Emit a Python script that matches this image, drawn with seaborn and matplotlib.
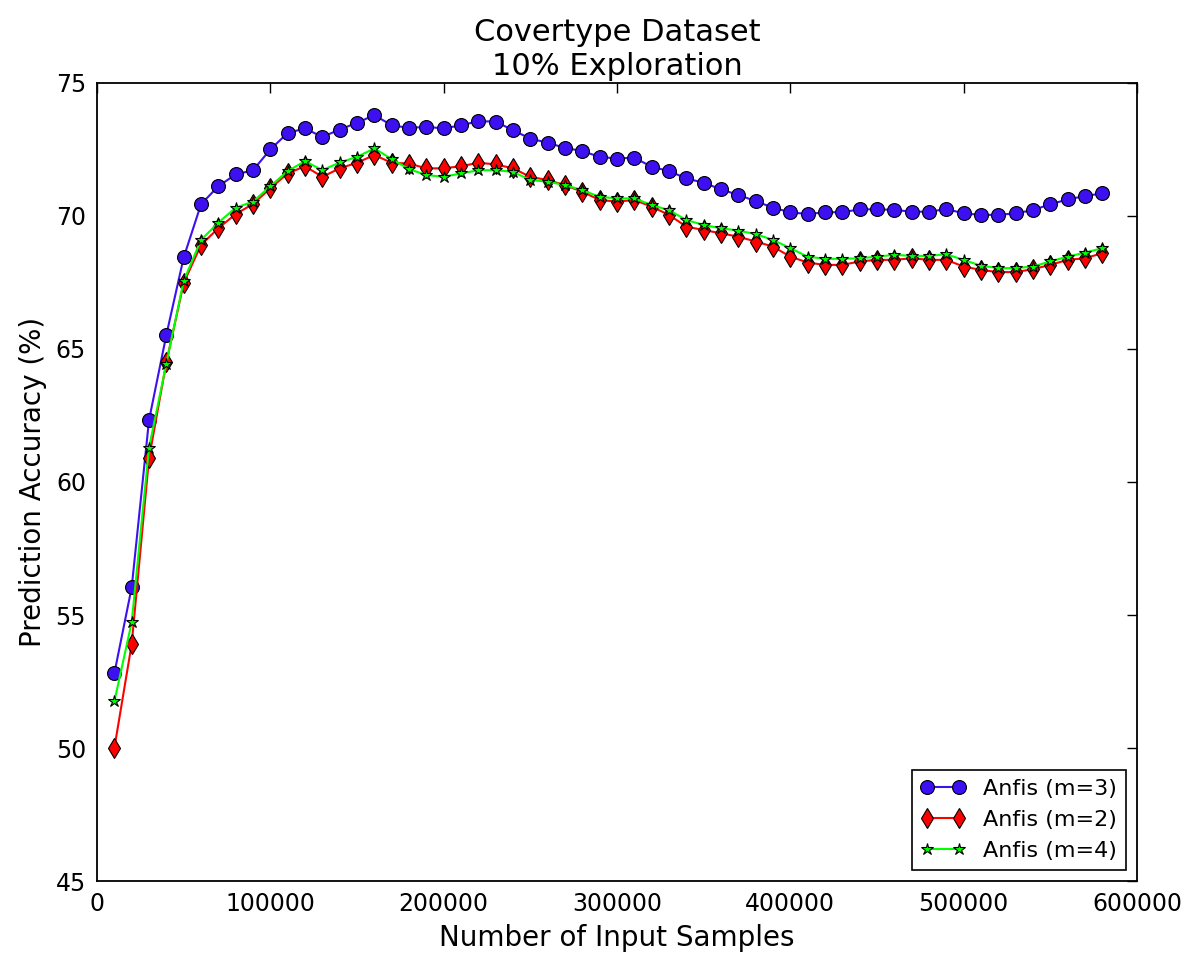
import matplotlib
matplotlib.use("Agg")
import matplotlib.pyplot as plt
import seaborn as sns
import numpy as np
import pandas as pd

samples = list(range(10000, 590000, 10000))

anfis_m3 = [52.81, 56.04, 62.33, 65.53, 68.44, 70.44, 71.12, 71.56, 71.72, 72.50,
            73.12, 73.29, 72.97, 73.25, 73.50, 73.79, 73.41, 73.31, 73.35, 73.29,
            73.41, 73.56, 73.55, 73.22, 72.91, 72.75, 72.56, 72.44, 72.22, 72.16,
            72.19, 71.85, 71.69, 71.41, 71.25, 71.00, 70.79, 70.56, 70.31, 70.14,
            70.07, 70.14, 70.14, 70.25, 70.25, 70.23, 70.16, 70.16, 70.26, 70.10,
            70.04, 70.04, 70.10, 70.22, 70.44, 70.62, 70.75, 70.85]

anfis_m2 = [50.00, 53.91, 60.89, 64.50, 67.48, 68.91, 69.54, 70.07, 70.45, 71.04,
            71.60, 71.87, 71.47, 71.79, 72.00, 72.29, 72.00, 71.97, 71.79, 71.79,
            71.87, 72.00, 71.94, 71.79, 71.47, 71.35, 71.16, 70.91, 70.60, 70.54,
            70.60, 70.35, 70.04, 69.60, 69.47, 69.35, 69.22, 69.04, 68.85, 68.47,
            68.25, 68.16, 68.16, 68.29, 68.35, 68.35, 68.41, 68.35, 68.35, 68.10,
            67.97, 67.89, 67.89, 68.00, 68.16, 68.35, 68.41, 68.60]

anfis_m4 = [51.75, 54.73, 61.29, 64.45, 67.56, 69.10, 69.75, 70.31, 70.54, 71.12,
            71.69, 72.06, 71.72, 72.01, 72.22, 72.54, 72.14, 71.76, 71.54, 71.47,
            71.60, 71.72, 71.72, 71.66, 71.35, 71.29, 71.16, 70.97, 70.72, 70.66,
            70.66, 70.41, 70.22, 69.85, 69.66, 69.54, 69.45, 69.32, 69.10, 68.79,
            68.47, 68.39, 68.39, 68.41, 68.47, 68.54, 68.50, 68.50, 68.56, 68.35,
            68.13, 68.04, 68.04, 68.10, 68.29, 68.47, 68.62, 68.79]

labels = ["Anfis (m=3)", "Anfis (m=2)", "Anfis (m=4)"]
x_ticks = [0, 100000, 200000, 300000, 400000, 500000, 600000]
y_ticks = [45, 50, 55, 60, 65, 70, 75]

sns.set_style("white")
plt.rcParams['font.family'] = ['DejaVu Sans']
plt.rcParams['text.color'] = 'black'
plt.rcParams['axes.labelcolor'] = 'black'

fig = plt.figure(figsize=(11.98, 9.59), dpi=100)
ax = fig.add_axes([0.081, 0.0813, 0.868, 0.8322])

sns.lineplot(x=samples, y=anfis_m3, ax=ax, color='#3c10f0', marker='o',
             markersize=10, markeredgecolor='black', markeredgewidth=0.8,
             linewidth=1.5, label=labels[0])
sns.lineplot(x=samples, y=anfis_m2, ax=ax, color='#ff0000', marker='d',
             markersize=10, markeredgecolor='black', markeredgewidth=0.8,
             linewidth=1.5, label=labels[1])
sns.lineplot(x=samples, y=anfis_m4, ax=ax, color='#00ff00', marker='*',
             markersize=9, markeredgecolor='black', markeredgewidth=0.8,
             linewidth=1.5, label=labels[2])

ax.set_xlim(0, 600000)
ax.set_ylim(45, 75)
ax.set_xticks(x_ticks)
ax.set_yticks(y_ticks)
ax.set_xticklabels([str(t) for t in x_ticks])
ax.set_yticklabels([str(t) for t in y_ticks])
ax.tick_params(direction='in', length=7, width=1, top=True, right=True,
               labelsize=17, pad=8, colors='black')
for s in ax.spines.values():
    s.set_visible(True)
    s.set_color('black')
    s.set_linewidth(1.3)

ax.set_xlabel("Number of Input Samples", fontsize=20, labelpad=6)
ax.set_ylabel("Prediction Accuracy (%)", fontsize=20, labelpad=6)
ax.set_title("Covertype Dataset\n10% Exploration", fontsize=22, pad=6, color='black')

leg = ax.legend(loc='lower right', numpoints=2, fontsize=16, frameon=True,
                fancybox=False, borderaxespad=0.5, handlelength=2.0)
leg.get_frame().set_edgecolor('black')
leg.get_frame().set_linewidth(1.2)
leg.get_frame().set_alpha(1)

fig.savefig("out.png", dpi=100, facecolor='white')
